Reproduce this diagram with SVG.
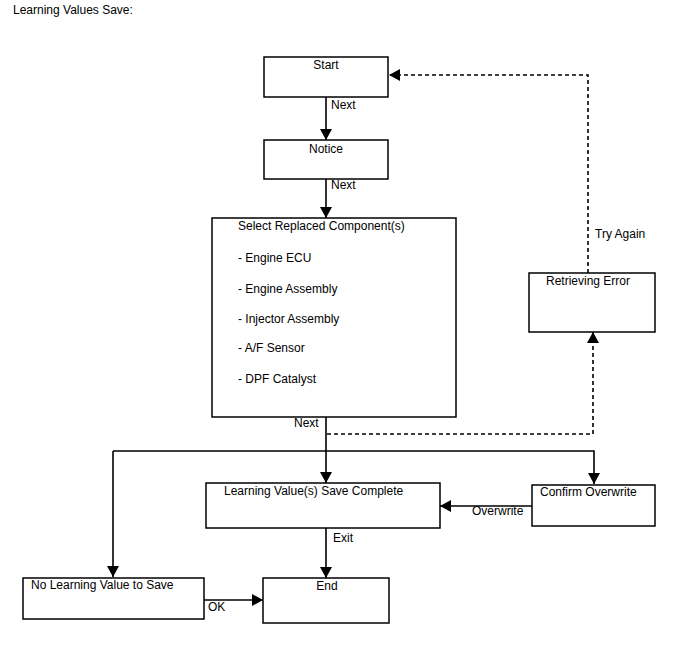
<svg xmlns="http://www.w3.org/2000/svg" width="688" height="658" viewBox="0 0 688 658">
<style>
  text { font-family: "Liberation Sans", Arial, sans-serif; font-size: 12px; fill: #000; }
  .box { fill: #fff; stroke: #000; stroke-width: 1.5; }
  .ln { fill: none; stroke: #000; stroke-width: 1.6; }
  .dash { fill: none; stroke: #000; stroke-width: 1.6; stroke-dasharray: 4 3; }
  .mid { text-anchor: middle; }
</style>
<defs>
  <marker id="arr" markerUnits="userSpaceOnUse" markerWidth="12" markerHeight="12" refX="11" refY="6" orient="auto">
    <path d="M0,0 L11,6 L0,12 Z" fill="#000"/>
  </marker>
</defs>
<rect width="688" height="658" fill="#fff"/>
<text x="13" y="14">Learning Values Save:</text>

<g id="connectors">
  <line class="ln" x1="326" y1="97" x2="326" y2="140" marker-end="url(#arr)"/>
  <text x="331" y="109">Next</text>
  <line class="ln" x1="326" y1="179" x2="326" y2="218" marker-end="url(#arr)"/>
  <text x="331" y="189">Next</text>
  <line class="ln" x1="326" y1="417" x2="326" y2="483" marker-end="url(#arr)"/>
  <text x="294" y="427">Next</text>
  <polyline class="ln" points="113,451 594,451 594,484" marker-end="url(#arr)"/>
  <line class="ln" x1="113" y1="451" x2="113" y2="577" marker-end="url(#arr)"/>
  <polyline class="dash" points="327,434 593,434 593,332" marker-end="url(#arr)"/>
  <polyline class="dash" points="588,273 588,75 389,75" marker-end="url(#arr)"/>
  <text x="595" y="238">Try Again</text>
  <line class="ln" x1="532" y1="506" x2="440" y2="506" marker-end="url(#arr)"/>
  <text x="472" y="515">Overwrite</text>
  <line class="ln" x1="326" y1="528" x2="326" y2="578" marker-end="url(#arr)"/>
  <text x="333" y="542">Exit</text>
  <line class="ln" x1="204" y1="600" x2="263" y2="600" marker-end="url(#arr)"/>
  <text x="208" y="611">OK</text>
</g>

<g id="start">
  <rect class="box" x="264" y="57" width="124" height="40"/>
  <text class="mid" x="326" y="69">Start</text>
</g>
<g id="notice">
  <rect class="box" x="264" y="140" width="124" height="39"/>
  <text class="mid" x="326" y="153">Notice</text>
</g>
<g id="select">
  <rect class="box" x="212" y="218" width="244" height="199"/>
  <text x="238" y="230">Select Replaced Component(s)</text>
  <text x="238" y="262">- Engine ECU</text>
  <text x="238" y="293">- Engine Assembly</text>
  <text x="238" y="323">- Injector Assembly</text>
  <text x="238" y="352">- A/F Sensor</text>
  <text x="238" y="383">- DPF Catalyst</text>
</g>
<g id="retrieving-error">
  <rect class="box" x="529" y="273" width="126" height="59"/>
  <text x="546" y="285">Retrieving Error</text>
</g>
<g id="save-complete">
  <rect class="box" x="206" y="483" width="234" height="45"/>
  <text x="224" y="495">Learning Value(s) Save Complete</text>
</g>
<g id="confirm-overwrite">
  <rect class="box" x="532" y="485" width="123" height="41"/>
  <text x="540" y="496">Confirm Overwrite</text>
</g>
<g id="no-learning-value">
  <rect class="box" x="23" y="578" width="181" height="41"/>
  <text x="31" y="589">No Learning Value to Save</text>
</g>
<g id="end">
  <rect class="box" x="263" y="578" width="126" height="45"/>
  <text class="mid" x="327" y="590">End</text>
</g>
</svg>
